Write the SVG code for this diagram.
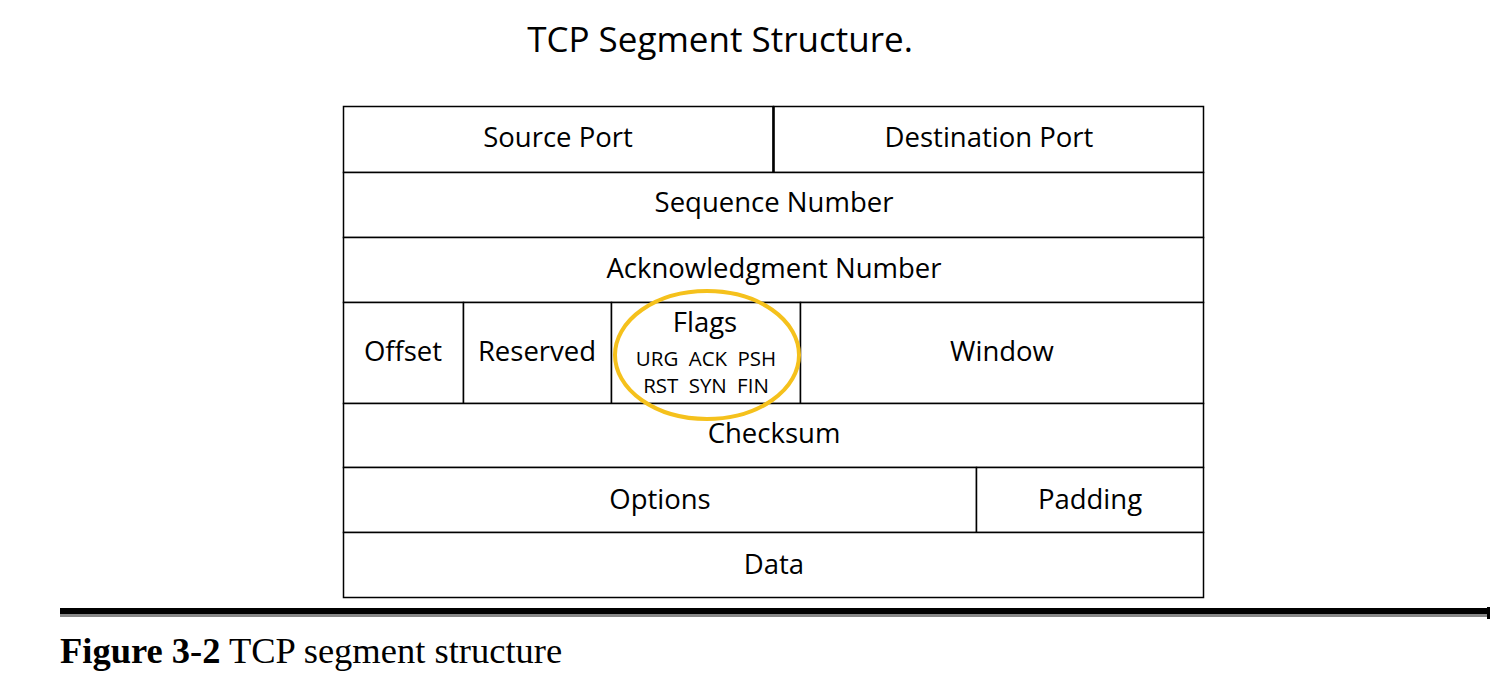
<svg xmlns="http://www.w3.org/2000/svg" width="1507" height="690" viewBox="0 0 1507 690">
<style>
.cell{fill:#fff;stroke:#000;stroke-width:1.5}
.t{font-family:"Open Sans","Noto Sans",sans-serif;font-size:27.5px;fill:#000;text-anchor:middle}
.s{font-family:"Open Sans","Noto Sans",sans-serif;font-size:20.5px;fill:#000;text-anchor:middle}
.cap{font-family:"Liberation Serif",serif;font-size:36.5px;fill:#000}
</style>
<rect width="1507" height="690" fill="#fff"/>
<text x="720" y="52" font-family="'Open Sans','Noto Sans',sans-serif" font-size="35" text-anchor="middle">TCP Segment Structure.</text>
<g id="source-port"><rect class="cell" x="343.5" y="106.5" width="430" height="66"/><text class="t" x="558" y="147">Source Port</text></g>
<g id="destination-port"><rect class="cell" x="773.5" y="106.5" width="430" height="66"/><line x1="773.5" y1="106" x2="773.5" y2="172" stroke="#000" stroke-width="2.5"/><text class="t" x="989" y="147">Destination Port</text></g>
<g id="sequence-number"><rect class="cell" x="343.5" y="172.5" width="860" height="65"/><text class="t" x="774" y="212">Sequence Number</text></g>
<g id="ack-number"><rect class="cell" x="343.5" y="237.5" width="860" height="65"/><text class="t" x="774" y="278">Acknowledgment Number</text></g>
<g id="offset"><rect class="cell" x="343.5" y="302.5" width="120" height="101"/><text class="t" x="403" y="361">Offset</text></g>
<g id="reserved"><rect class="cell" x="463.5" y="302.5" width="148" height="101"/><text class="t" x="537" y="361">Reserved</text></g>
<g id="flags"><rect class="cell" x="611.5" y="302.5" width="189" height="101"/><text class="t" x="705" y="332">Flags</text><text class="s" x="706" y="366" word-spacing="5">URG ACK PSH</text><text class="s" x="706" y="393" word-spacing="5">RST SYN FIN</text></g>
<g id="window"><rect class="cell" x="800.5" y="302.5" width="403" height="101"/><text class="t" x="1002" y="361">Window</text></g>
<g id="checksum"><rect class="cell" x="343.5" y="403.5" width="860" height="64"/><text class="t" x="774" y="443">Checksum</text></g>
<g id="options"><rect class="cell" x="343.5" y="467.5" width="633" height="65"/><text class="t" x="660" y="509">Options</text></g>
<g id="padding"><rect class="cell" x="976.5" y="467.5" width="227" height="65"/><text class="t" x="1090" y="509">Padding</text></g>
<g id="data"><rect class="cell" x="343.5" y="532.5" width="860" height="65"/><text class="t" x="774" y="574">Data</text></g>
<g id="highlight"><ellipse cx="707" cy="355" rx="92" ry="64" fill="none" stroke="#F5C11C" stroke-width="4"/></g>
<g id="rule">
<rect x="60" y="608" width="1430" height="6" fill="#000"/>
<rect x="60" y="614" width="1427" height="3" fill="#888"/>
<rect x="1487" y="607" width="3" height="12" fill="#000"/>
</g>
<text class="cap" x="60" y="663"><tspan font-weight="bold">Figure 3-2</tspan> TCP segment structure</text>
</svg>
